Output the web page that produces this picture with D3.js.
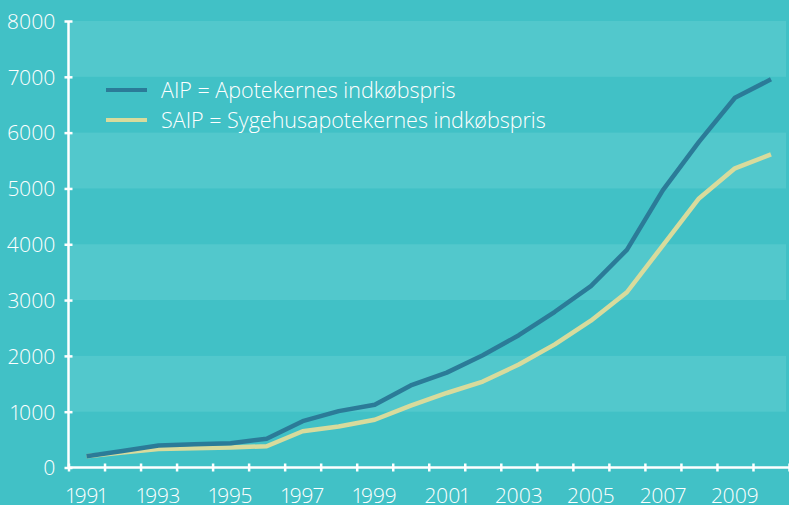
<!DOCTYPE html>
<html>
<head>
<meta charset="utf-8">
<script src="https://cdn.jsdelivr.net/npm/d3@7"></script>
<style>
  html, body { margin: 0; padding: 0; background: #41c1c6; }
  svg { display: block; }
  text { font-family: "Open Sans", sans-serif; font-weight: 300; fill: #ffffff; font-variant-numeric: proportional-nums; }
</style>
</head>
<body>
<div id="chart"></div>
<script>
const years = d3.range(1991, 2011);
const yearLabels = [1991, 1993, 1995, 1997, 1999, 2001, 2003, 2005, 2007, 2009];
const yTicks = [0, 1000, 2000, 3000, 4000, 5000, 6000, 7000, 8000];
const aip = [200, 295, 395, 415, 435, 515, 830, 1010, 1125, 1470, 1700, 2010, 2370, 2790, 3250, 3900, 4970, 5835, 6625, 6955];
const saip = [200, 270, 330, 345, 360, 380, 650, 735, 855, 1110, 1335, 1540, 1845, 2206, 2630, 3140, 3980, 4820, 5360, 5610];
const seriesNames = ["AIP = Apotekernes indkøbspris", "SAIP = Sygehusapotekernes indkøbspris"];
const seriesColors = ["#2b7b98", "#d8db9c"];

const width = 789, height = 505;
const plotLeft = 68.5, plotRight = 789, plotTop = 21, plotBottom = 467.5;

const svg = d3.select("#chart").append("svg")
    .attr("width", width)
    .attr("height", height);

// x: one band per year, ticks on the band edges
const xEdge = d3.scaleLinear().domain([1991, 2011]).range([plotLeft, plotRight]);
const y = d3.scaleLinear().domain([0, 8000]).range([plotBottom, plotTop]);

// alternating bands
svg.append("g")
    .selectAll("rect")
    .data(yTicks.slice(0, -1).filter(d => (d / 1000) % 2 === 1))
    .join("rect")
    .attr("x", plotLeft)
    .attr("width", 786 - plotLeft)
    .attr("y", d => y(d + 1000))
    .attr("height", d => y(d) - y(d + 1000))
    .attr("fill", "#52c8cc");

// lines
const line = d3.line()
    .x((d, i) => xEdge(years[i] + 0.5))
    .y(d => y(d));

svg.append("g")
    .selectAll("path")
    .data([saip, aip])
    .join("path")
    .attr("d", d => line(d))
    .attr("fill", "none")
    .attr("stroke", (d, i) => i === 0 ? seriesColors[1] : seriesColors[0])
    .attr("stroke-width", 4.5)
    .attr("stroke-linejoin", "round");

// y axis
const yAxis = svg.append("g")
    .attr("transform", `translate(${plotLeft},0)`)
    .call(d3.axisLeft(y).tickValues(yTicks).tickFormat(d3.format("d")).tickSize(4).tickPadding(10));
yAxis.select(".domain").attr("stroke", "#fff").attr("stroke-width", 2.5)
    .attr("d", `M0,${plotTop}V${plotBottom}`);
yAxis.selectAll(".tick line").attr("stroke", "#fff").attr("stroke-width", 2.5).attr("x1", -4).attr("x2", 4);
yAxis.selectAll(".tick text").attr("font-size", 21).attr("dy", "0.35em").attr("x", -13);

// x axis
const xAxis = svg.append("g")
    .attr("transform", `translate(0,${plotBottom})`)
    .call(d3.axisBottom(xEdge).tickValues(d3.range(1991, 2012)).tickFormat("").tickSize(4));
xAxis.select(".domain").attr("stroke", "#fff").attr("stroke-width", 2.5)
    .attr("d", `M${plotLeft},0H${plotRight}`);
xAxis.selectAll(".tick line").attr("stroke", "#fff").attr("stroke-width", 2.5).attr("y1", -4).attr("y2", 4);

svg.append("g")
    .selectAll("text")
    .data(yearLabels)
    .join("text")
    .attr("x", d => xEdge(d + 0.5))
    .attr("y", 503)
    .attr("text-anchor", "middle")
    .attr("font-size", 21)
    .text(d => d);

// legend
const legend = svg.append("g")
    .selectAll("g")
    .data(seriesNames)
    .join("g")
    .attr("transform", (d, i) => `translate(106,${90 + i * 30})`);
legend.append("line")
    .attr("x1", 0).attr("x2", 41)
    .attr("stroke", (d, i) => seriesColors[i])
    .attr("stroke-width", 4);
legend.append("text")
    .attr("x", 55)
    .attr("dy", "0.35em")
    .attr("font-size", 21.5)
    .text(d => d);
</script>
</body>
</html>
